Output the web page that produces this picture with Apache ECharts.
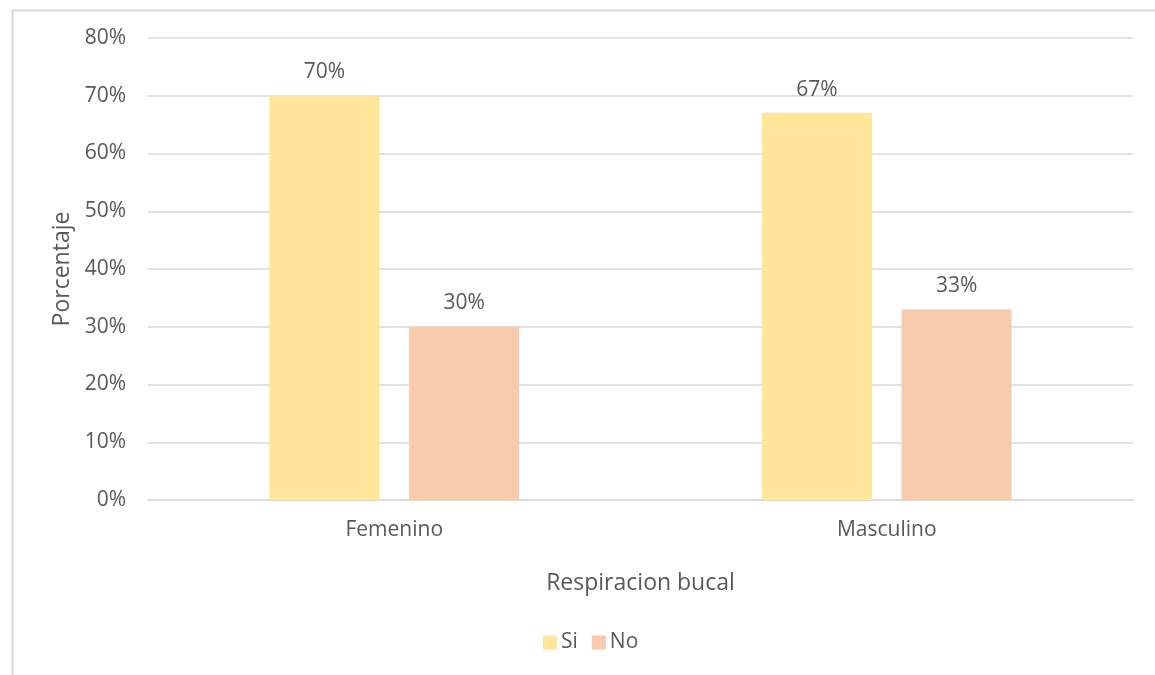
<!DOCTYPE html>
<html>
<head>
<meta charset="utf-8">
<script src="https://cdn.jsdelivr.net/npm/echarts@6/dist/echarts.min.js"></script>
<style>
  html, body { margin: 0; padding: 0; background: #fff; }
  #chart { width: 1155px; height: 675px; }
</style>
</head>
<body>
<div id="chart"></div>
<script>
const categories = ['Femenino', 'Masculino'];
const siValues = [70, 67];
const noValues = [30, 33];
const yTicks = [0, 10, 20, 30, 40, 50, 60, 70, 80];

const textColor = '#595959';
const fontFamily = '"Open Sans", "Noto Sans", sans-serif';

const chart = echarts.init(document.getElementById('chart'));

const option = {
  backgroundColor: '#fff',
  textStyle: { fontFamily: fontFamily, color: textColor },
  graphic: [
    {
      type: 'rect',
      left: 10, top: 8,
      shape: { width: 1200, height: 720 },
      style: { fill: 'none', stroke: '#d9d9d9', lineWidth: 2 },
      silent: true,
      z: -1
    }
  ],
  grid: { left: 148, right: 22, top: 38, bottom: 175, containLabel: false },
  legend: {
    bottom: 17,
    left: 538,
    itemWidth: 14,
    itemHeight: 14,
    itemGap: 14,
    icon: 'rect',
    textStyle: { fontSize: 21, color: textColor, fontFamily: fontFamily, padding: [0, 0, 0, -1] },
    data: ['Si', 'No']
  },
  xAxis: {
    type: 'category',
    data: categories,
    name: 'Respiracion bucal',
    nameLocation: 'middle',
    nameGap: 72,
    nameTextStyle: { fontSize: 23, color: textColor, fontFamily: fontFamily },
    axisLine: { show: true, lineStyle: { color: '#d9d9d9', width: 1.5 } },
    axisTick: { show: false },
    axisLabel: { fontSize: 21, color: textColor, margin: 20, fontFamily: fontFamily }
  },
  yAxis: {
    type: 'value',
    min: yTicks[0],
    max: yTicks[yTicks.length - 1],
    interval: 10,
    name: 'Porcentaje',
    nameLocation: 'middle',
    nameGap: 74,
    nameRotate: 90,
    nameTextStyle: { fontSize: 23, color: textColor, fontFamily: fontFamily },
    axisLine: { show: false },
    axisTick: { show: false },
    axisLabel: { fontSize: 21, color: textColor, margin: 22, formatter: '{value}%', fontFamily: fontFamily },
    splitLine: { lineStyle: { color: '#d9d9d9', width: 1.5 } }
  },
  series: [
    {
      name: 'Si',
      type: 'bar',
      data: siValues,
      barWidth: 110,
      barGap: '27%',
      itemStyle: { color: '#FFE699' },
      label: { show: true, position: 'top', distance: 13, formatter: '{c}%', fontSize: 21, color: textColor, fontFamily: fontFamily }
    },
    {
      name: 'No',
      type: 'bar',
      data: noValues,
      barWidth: 110,
      itemStyle: { color: '#F8CBAD' },
      label: { show: true, position: 'top', distance: 13, formatter: '{c}%', fontSize: 21, color: textColor, fontFamily: fontFamily }
    }
  ]
};

chart.setOption(option);
</script>
</body>
</html>
